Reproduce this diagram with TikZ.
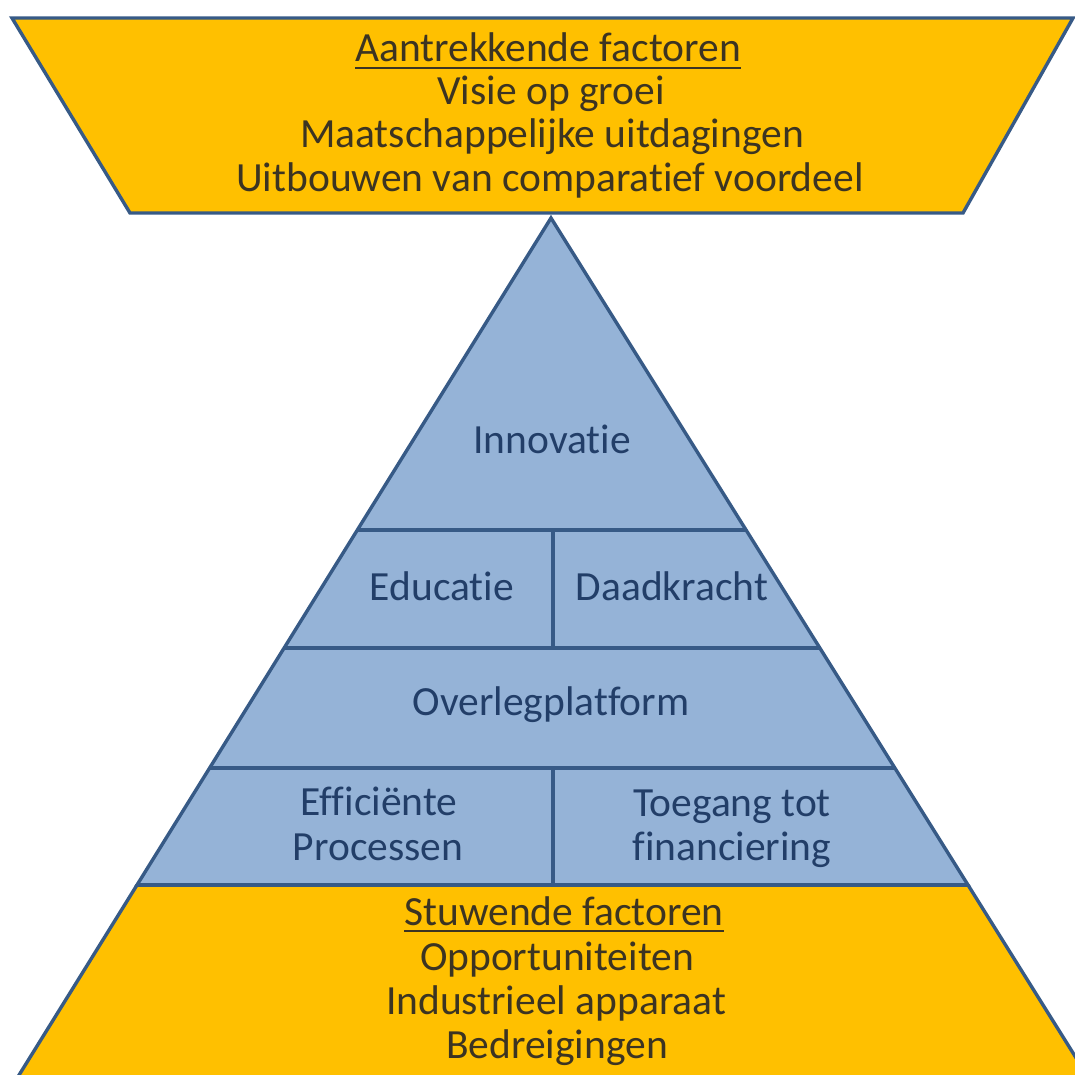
\documentclass[tikz,border=0pt]{standalone}
\usepackage{fontspec}
\setmainfont[RawFeature={-liga;-clig}]{Carlito}
\usetikzlibrary{calc}
\definecolor{gold}{RGB}{255,192,0}
\definecolor{pblue}{RGB}{149,179,215}
\definecolor{edgeblue}{RGB}{55,90,134}
\definecolor{btext}{RGB}{34,62,104}
\definecolor{otext}{RGB}{60,52,34}
\begin{document}
\begin{tikzpicture}[x=1pt,y=-1pt,line join=miter,
  shapeedge/.style={draw=edgeblue,line width=3.4pt},
  divline/.style={draw=edgeblue,line width=3.4pt},
  olbl/.style={inner sep=0pt,anchor=base,text=otext,font=\fontsize{41.5}{50}\selectfont},
  blbl/.style={inner sep=0pt,anchor=base,text=btext,font=\fontsize{41.5}{50}\selectfont},
  uline/.style={draw=otext,line width=2.4pt}]
\useasboundingbox (0,0) rectangle (1075,1075);
\clip (0,0) rectangle (1075,1075);
\fill[white] (0,0) rectangle (1075,1075);

% top trapezoid
\draw[shapeedge,fill=gold] (12,18) -- (1073,18) -- (963,213) -- (130,213) -- cycle;

% pyramid corners
\coordinate (A) at (551,218);
\coordinate (BL) at (137,885);
\coordinate (BR) at (968,885);

% bottom trapezoid
\fill[gold] (BL) -- (BR) -- ($(A)!1.35!(BR)$) -- ($(A)!1.35!(BL)$) -- cycle;
\draw[shapeedge] (BL) -- ($(A)!1.35!(BL)$);
\draw[shapeedge] (BR) -- ($(A)!1.35!(BR)$);

% pyramid
\draw[shapeedge,fill=pblue] (A) -- (BR) -- (BL) -- cycle;
\coordinate (L1) at ($(A)!0.4678!(BL)$);
\coordinate (R1) at ($(A)!0.4678!(BR)$);
\coordinate (L2) at ($(A)!0.6447!(BL)$);
\coordinate (R2) at ($(A)!0.6447!(BR)$);
\coordinate (L3) at ($(A)!0.8246!(BL)$);
\coordinate (R3) at ($(A)!0.8246!(BR)$);
\draw[divline] (L1) -- (R1);
\draw[divline] (L2) -- (R2);
\draw[divline] (L3) -- (R3);
\draw[divline] (553,530) -- (553,648);
\draw[divline] (553,768) -- (553,885);
\draw[shapeedge] (BL) -- (BR);

% top texts
\node[olbl] (att) at (548,62) {Aantrekkende factoren};
\draw[uline] ([yshift=-6pt]att.base west) -- ([yshift=-6pt]att.base east);
\node[olbl] (t1) at (551,105) {Visie op groei};
\node[olbl] (t2) at (552,148) {Maatschappelijke uitdagingen};
\node[olbl] (t3) at (550,192) {Uitbouwen van comparatief voordeel};

% pyramid texts
\node[blbl] (inno) at (552,453) {Innovatie};
\node[blbl] (edu) at (442,600) {Educatie};
\node[blbl] (daad) at (672,600) {Daadkracht};
\node[blbl] (over) at (551,715) {Overlegplatform};
\node[blbl] (eff1) at (379,815) {Efficiënte};
\node[blbl] (eff2) at (378,860) {Processen};
\node[blbl] (toe1) at (732,816) {Toegang tot};
\node[blbl] (toe2) at (732,860) {financiering};

% bottom texts
\node[olbl] (stu) at (564,925) {Stuwende factoren};
\draw[uline] ([yshift=-6pt]stu.base west) -- ([yshift=-6pt]stu.base east);
\node[olbl] (b1) at (557,970) {Opportuniteiten};
\node[olbl] (b2) at (556,1014) {Industrieel apparaat};
\node[olbl] (b3) at (557,1058) {Bedreigingen};
\end{tikzpicture}
\end{document}
